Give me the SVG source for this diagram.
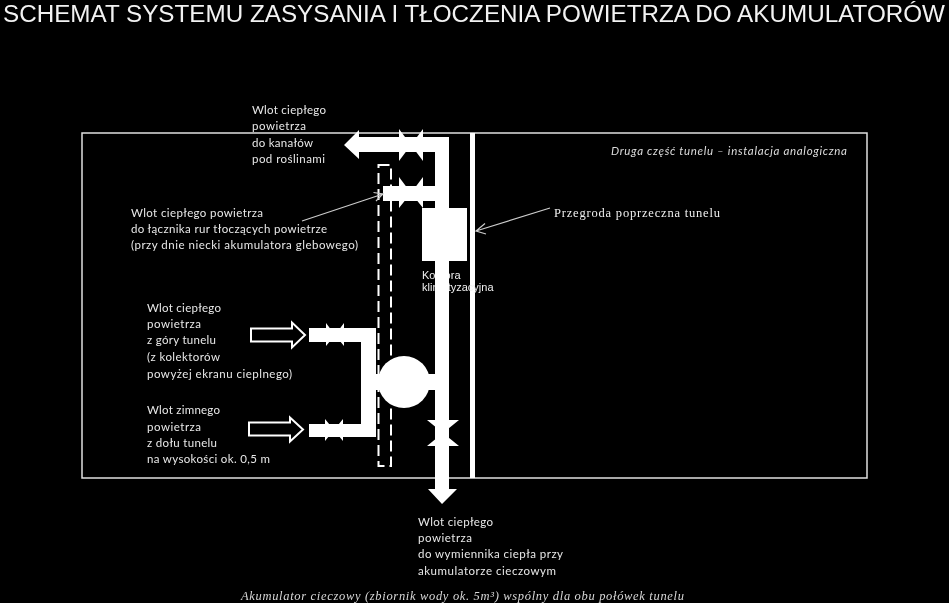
<svg xmlns="http://www.w3.org/2000/svg" width="949" height="603" viewBox="0 0 949 603">
<defs><filter id="soft" x="0" y="0" width="100%" height="100%" filterUnits="objectBoundingBox"><feGaussianBlur stdDeviation="0.35"/></filter></defs>
<style>
.l{font-family:Lato,"Open Sans",sans-serif;font-size:11.5px;fill:#e8e8e8}
.i{font-family:Lato,"Open Sans",sans-serif;font-size:11.5px;font-style:italic;fill:#dcdcdc}
.w{fill:#fff}
.h{fill:#000;stroke:#fff;stroke-width:2}
.t{fill:none;stroke:#ccc;stroke-width:1.2}
.d{fill:none;stroke:#fff;stroke-width:2;stroke-dasharray:11 5}
</style>
<rect width="949" height="603" fill="#000"/>
<g filter="url(#soft)">
<text x="3" y="22" textLength="942" lengthAdjust="spacingAndGlyphs" font-family="Liberation Sans,Arial,sans-serif" font-size="23.5" fill="#f2f2f2">SCHEMAT SYSTEMU ZASYSANIA I TŁOCZENIA POWIETRZA DO AKUMULATORÓW</text>
<g id="tunnel"><rect x="82" y="133" width="785" height="345" fill="none" stroke="#e0e0e0" stroke-width="1.5"/>
<text class="i" x="611" y="155" textLength="236">Druga część tunelu – instalacja analogiczna</text></g>
<g id="partition"><rect x="470" y="133" width="5" height="345" class="w"/>
<text x="554" y="217" textLength="166" font-family="Liberation Serif,serif" font-size="12.5" fill="#f0f0f0">Przegroda poprzeczna tunelu</text></g>
<g id="basin"><rect x="378.500" y="165" width="12.500" height="301" class="d"/></g>
<g id="connectors">
<path class="w" d="M344 145L359 130V137H449V489H457L442 504L428 489H435V152H359V159Z"/>
<rect class="w" x="383" y="186" width="52" height="15"/>
<path class="w" d="M309 328H376V374H435V390H376V437H309V424H361V342H309Z"/>
<path class="t" d="M302 221L383 194M373.500 192.500L383 194L376 201"/>
<path class="t" d="M550 208L476 231M485 223.500L476 231L486 234"/>
</g>
<g id="chamber"><rect class="w" x="422" y="208" width="45" height="53"/>
<text x="422" y="279" font-family="Liberation Sans,Arial,sans-serif" font-size="11" fill="#f0f0f0">Komora</text>
<text x="422" y="291" font-family="Liberation Sans,Arial,sans-serif" font-size="11" fill="#f0f0f0">klimatyzacyjna</text>
<rect class="w" x="435" y="261" width="14" height="40"/></g>
<g id="fan"><circle class="w" cx="404" cy="382" r="26"/></g>
<g id="valve-top"><path class="w" d="M399 129L411 145L423 129V161L411 145L399 161Z"/></g>
<g id="valve-mid"><path class="w" d="M399 177L411 193L423 177V208L411 193L399 208Z"/></g>
<g id="valve-upper"><path class="w" d="M326 323L335 335L344 323V346L335 335L326 346Z"/></g>
<g id="valve-lower"><path class="w" d="M325 419L334 430L343 419V441L334 430L325 441Z"/></g>
<g id="valve-bottom"><path class="w" d="M427 420H459L443 433L459 446H427L443 433Z"/></g>
<g id="inlet-upper"><path class="h" d="M251 328.500H292V322.500L305 335L292 347.500V341.500H251Z"/></g>
<g id="inlet-lower"><path class="h" d="M249 422.500H290V417.500L303 429.500L290 441.500V435.500H249Z"/></g>
<g id="label-canals">
<text class="l" x="252" y="114" textLength="74">Wlot ciepłego</text>
<text class="l" x="252" y="130" textLength="54">powietrza</text>
<text class="l" x="252" y="147" textLength="61">do kanałów</text>
<text class="l" x="252" y="163" textLength="73">pod roślinami</text></g>
<g id="label-connector">
<text class="l" x="131" y="217" textLength="132">Wlot ciepłego powietrza</text>
<text class="l" x="131" y="233" textLength="196">do łącznika rur tłoczących powietrze</text>
<text class="l" x="131" y="249" textLength="227">(przy dnie niecki akumulatora glebowego)</text></g>
<g id="label-warm">
<text class="l" x="147" y="312" textLength="74">Wlot ciepłego</text>
<text class="l" x="147" y="328" textLength="54">powietrza</text>
<text class="l" x="147" y="344" textLength="69">z góry tunelu</text>
<text class="l" x="147" y="361" textLength="73">(z kolektorów</text>
<text class="l" x="147" y="378" textLength="145">powyżej ekranu cieplnego)</text></g>
<g id="label-cold">
<text class="l" x="147" y="414" textLength="73">Wlot zimnego</text>
<text class="l" x="147" y="431" textLength="54">powietrza</text>
<text class="l" x="147" y="447" textLength="70">z dołu tunelu</text>
<text class="l" x="147" y="463" textLength="123">na wysokości ok. 0,5 m</text></g>
<g id="label-exchanger">
<text class="l" x="418" y="526" textLength="75">Wlot ciepłego</text>
<text class="l" x="418" y="542" textLength="54">powietrza</text>
<text class="l" x="418" y="558" textLength="145">do wymiennika ciepła przy</text>
<text class="l" x="418" y="575" textLength="138">akumulatorze cieczowym</text></g>
<g id="label-tank"><text x="241" y="600" textLength="443" font-family="Liberation Serif,serif" font-style="italic" font-size="12.5" fill="#d8d8d8">Akumulator cieczowy (zbiornik wody ok. 5m³) wspólny dla obu połówek tunelu</text></g>
</g>
</svg>
